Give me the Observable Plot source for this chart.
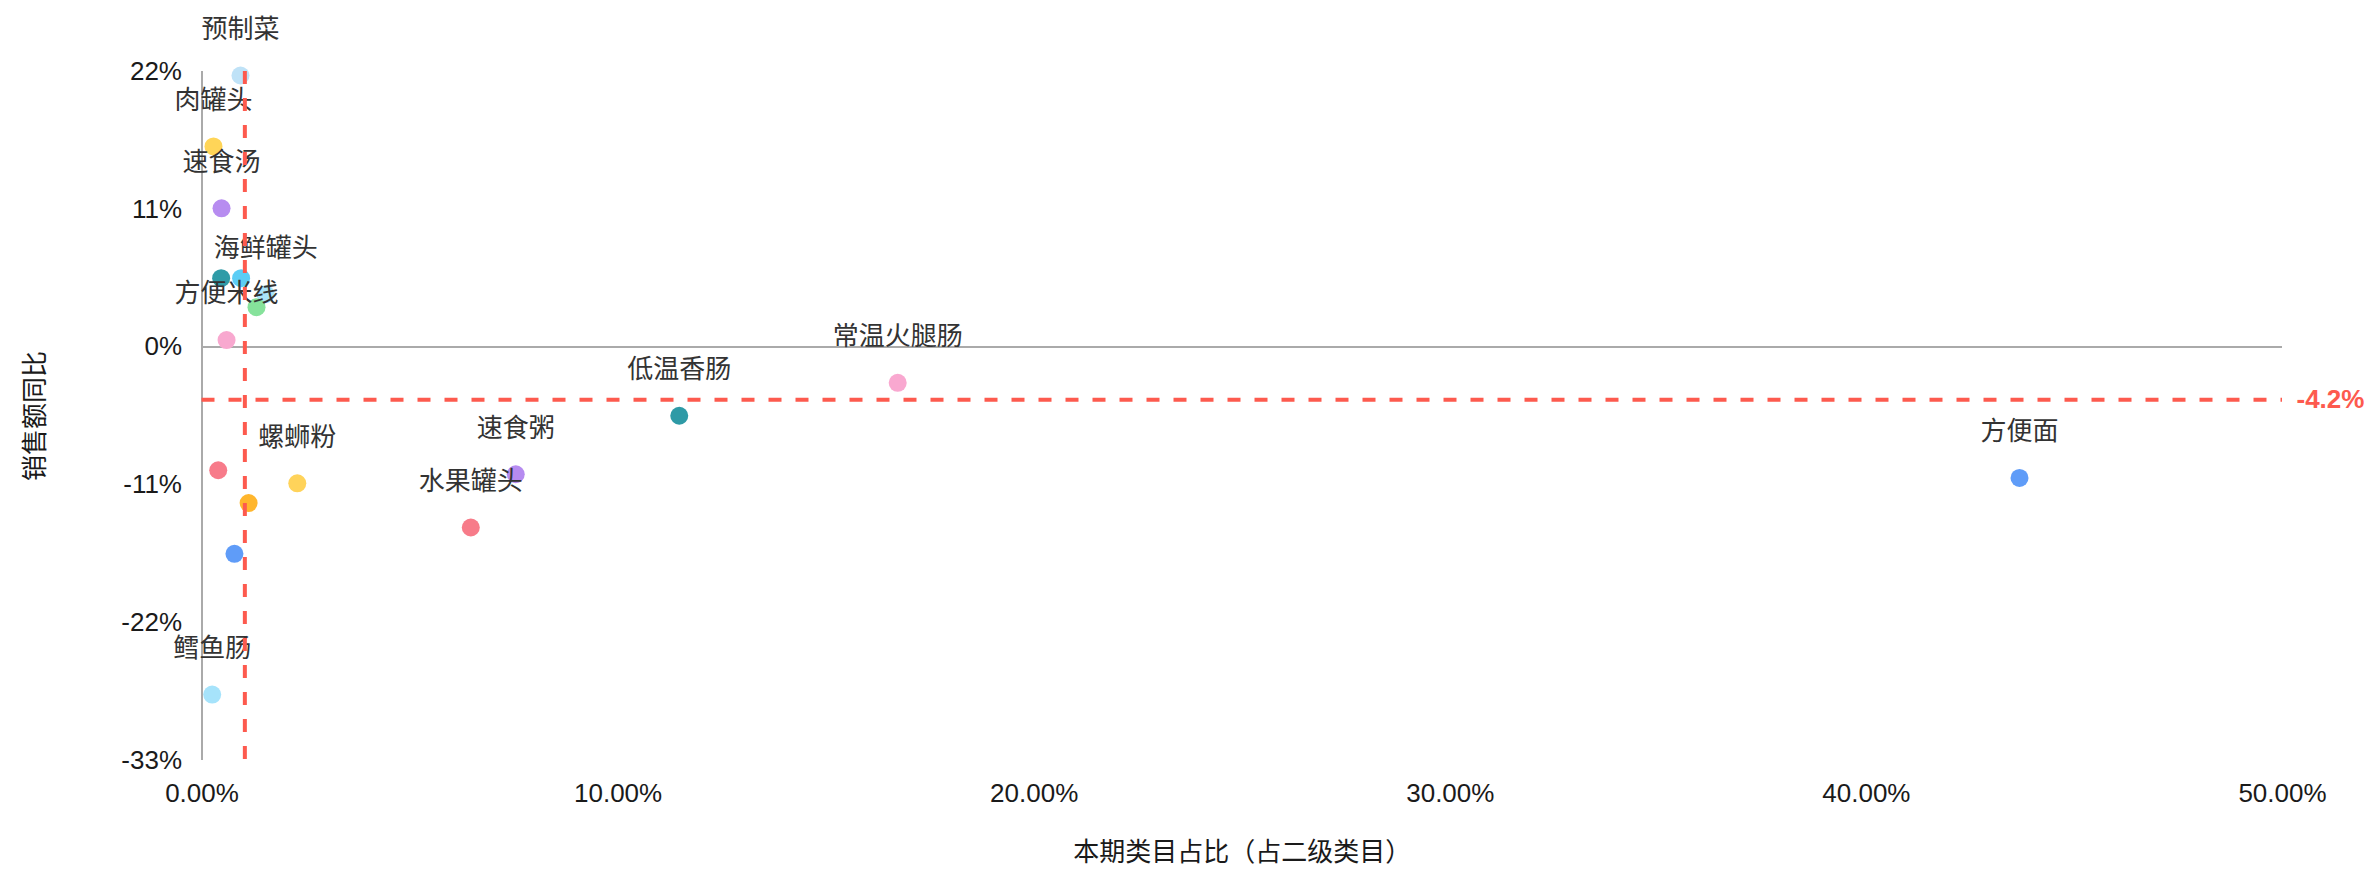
<!DOCTYPE html>
<html>
<head>
<meta charset="utf-8">
<script src="https://cdn.jsdelivr.net/npm/d3@7"></script>
<script src="https://cdn.jsdelivr.net/npm/@observablehq/plot@0.6"></script>
<style>
  html, body { margin: 0; padding: 0; background: #fff; }
  #chart svg { display: block; }
</style>
</head>
<body>
<div id="chart"></div>
<script>
// Category names ("" = point shown without a label in the reference)
const names = ["预制菜", "肉罐头", "速食汤", "", "", "海鲜罐头", "", "方便米线", "常温火腿肠", "低温香肠", "方便面", "", "螺蛳粉", "", "速食粥", "水果罐头", "", "鳕鱼肠"];
// 本期类目占比（占二级类目）
const share = [0.00925, 0.00276, 0.0047, 0.0046, 0.0094, 0.0153, 0.0131, 0.0059, 0.1672, 0.1147, 0.4368, 0.0039, 0.0229, 0.0112, 0.0754, 0.0646, 0.0078, 0.00245];
// 销售额同比
const growth = [0.2168, 0.1602, 0.1108, 0.055, 0.055, 0.0422, 0.0319, 0.0056, -0.0285, -0.0548, -0.1044, -0.0983, -0.1087, -0.1245, -0.1015, -0.144, -0.165, -0.2774];
// Average reference lines
const meanShare = 0.0103;
const meanGrowth = -0.042;
// Axis ticks
const xTicks = [0, 0.1, 0.2, 0.3, 0.4, 0.5];
const yTicks = [-0.33, -0.22, -0.11, 0, 0.11, 0.22];
// Point colours (style, by point order)
const palette = ["#bfe2f7", "#ffd558", "#b78cf0", "#2f9ba7", "#5ccdf5", "#a9e4fa", "#86e29b", "#f8a8cf", "#f9a8d0", "#2e9aa6", "#5f9cf8", "#f77b8a", "#ffd35a", "#ffb62d", "#b68bf0", "#f77b89", "#5f9cf8", "#a6e3fb"];

const data = names.map((name, i) => ({name, share: share[i], growth: growth[i], color: palette[i]}));

const FONT = "'Liberation Sans', Arial, 'Noto Sans CJK SC', sans-serif";
const CJK = "'Noto Sans CJK SC', sans-serif";
const RED = "#fd5a4e";
const GRAY = "#aaaaaa";

const chart = Plot.plot({
  width: 2376,
  height: 876,
  marginLeft: 201.5,
  marginRight: 94,
  marginTop: 71,
  marginBottom: 116,
  style: {fontFamily: FONT, background: "#fff", overflow: "visible"},
  x: {domain: [0, 0.5]},
  y: {domain: [-0.33, 0.22]},
  marks: [
    Plot.ruleY([0], {stroke: GRAY, strokeWidth: 2}),
    Plot.ruleX([0], {stroke: GRAY, strokeWidth: 2}),
    Plot.axisX({ticks: xTicks, tickFormat: d3.format(".2%"), tickSize: 0, tickPadding: 23, fontSize: 26, fill: "#1a1a1a", label: null}),
    Plot.axisY({ticks: yTicks, tickFormat: d => Math.round(d * 100) + "%", tickSize: 0, tickPadding: 20, fontSize: 26, fill: "#1a1a1a", label: null}),
    Plot.text(["本期类目占比（占二级类目）"], {frameAnchor: "bottom", lineAnchor: "middle", textAnchor: "middle", dy: 92, text: d => d, fontSize: 26, fill: "#1a1a1a", fontFamily: CJK}),
    Plot.text(["销售额同比"], {frameAnchor: "left", textAnchor: "middle", lineAnchor: "middle", dx: -166.5, rotate: -90, text: d => d, fontSize: 26, fill: "#1a1a1a", fontFamily: CJK}),
    Plot.dot(data, {x: "share", y: "growth", r: 9, fill: "color", stroke: "none"}),
    Plot.text(data, {x: "share", y: "growth", text: "name", dy: -46, fontSize: 26, fill: "#333", fontFamily: CJK}),
    Plot.ruleX([meanShare], {stroke: RED, strokeWidth: 4, strokeDasharray: "13,14"}),
    Plot.ruleY([meanGrowth], {stroke: RED, strokeWidth: 4, strokeDasharray: "13,14"}),
    Plot.text([meanGrowth], {y: d => d, frameAnchor: "right", dx: 14, textAnchor: "start", lineAnchor: "middle", text: d => (d * 100).toFixed(1) + "%", fill: RED, fontWeight: "bold", fontSize: 26})
  ]
});
document.getElementById("chart").appendChild(chart);
</script>
</body>
</html>
